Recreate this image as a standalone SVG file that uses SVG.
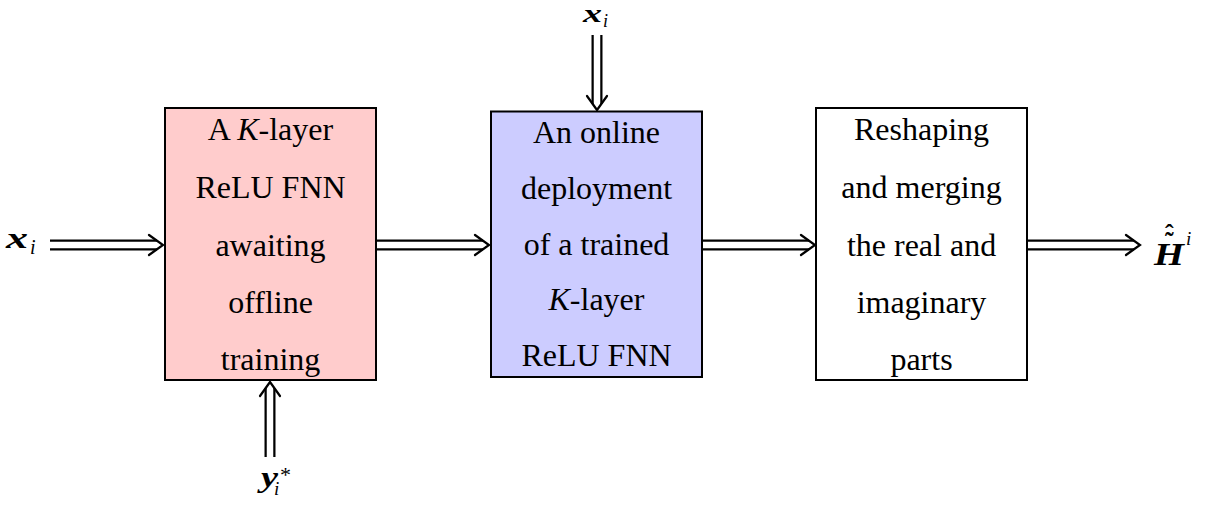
<svg xmlns="http://www.w3.org/2000/svg" width="1208" height="507" viewBox="0 0 1208 507">
  <style>
    .box { stroke: #000; stroke-width: 2; }
    .t { font-family: "Liberation Serif", "Times New Roman", serif; font-size: 32px; fill: #000; text-anchor: middle; }
    .s { font-family: "Liberation Serif", "Times New Roman", serif; fill: #000; }
    .bi { font-weight: bold; font-style: italic; }
    .it { font-style: italic; }
    .acc { font-style: normal; font-weight: bold; }
    .lo { stroke: #000; stroke-width: 11; fill: none; }
    .li { stroke: #fff; stroke-width: 6.5; fill: none; }
    .hd { stroke: #000; stroke-width: 2.2; fill: none; stroke-linejoin: miter; stroke-linecap: round; }
  </style>
  <rect width="1208" height="507" fill="#fff"/>

  <g id="connectors">
    <!-- x_i -> box1 -->
    <path class="lo" d="M50 245 H157"/>
    <path class="li" d="M50 245 H159"/>
    <path class="hd" d="M149 235 L163 245 L149 255"/>
    <!-- box1 -> box2 -->
    <path class="lo" d="M377 245 H483"/>
    <path class="li" d="M377 245 H485"/>
    <path class="hd" d="M475 235 L489 245 L475 255"/>
    <!-- box2 -> box3 -->
    <path class="lo" d="M702 245 H809"/>
    <path class="li" d="M702 245 H811"/>
    <path class="hd" d="M801 235 L815 245 L801 255"/>
    <!-- box3 -> output -->
    <path class="lo" d="M1027 245 H1134"/>
    <path class="li" d="M1027 245 H1136"/>
    <path class="hd" d="M1126 235 L1140 245 L1126 255"/>
    <!-- top x_i -> box2 -->
    <path class="lo" d="M597 35 V104"/>
    <path class="li" d="M597 35 V106"/>
    <path class="hd" d="M587 96 L597 110 L607 96"/>
    <!-- y_i^* -> box1 -->
    <path class="lo" d="M270 457 V388"/>
    <path class="li" d="M270 457 V386"/>
    <path class="hd" d="M260 396 L270 382 L280 396"/>
  </g>

  <g id="box1">
    <rect class="box" x="165" y="108" width="211" height="272" fill="#ffcccc"/>
    <text class="t" x="270.5" y="140"><tspan>A </tspan><tspan class="it">K</tspan><tspan>-layer</tspan></text>
    <text class="t" x="270.5" y="198">ReLU FNN</text>
    <text class="t" x="270.5" y="256">awaiting</text>
    <text class="t" x="270.5" y="313">offline</text>
    <text class="t" x="270.5" y="370">training</text>
  </g>

  <g id="box2">
    <rect class="box" x="491" y="111.5" width="211" height="265.5" fill="#ccccff"/>
    <text class="t" x="596.5" y="143">An online</text>
    <text class="t" x="596.5" y="199">deployment</text>
    <text class="t" x="596.5" y="255">of a trained</text>
    <text class="t" x="596.5" y="310"><tspan class="it">K</tspan><tspan>-layer</tspan></text>
    <text class="t" x="596.5" y="366">ReLU FNN</text>
  </g>

  <g id="box3">
    <rect class="box" x="816" y="108" width="211" height="272" fill="#ffffff"/>
    <text class="t" x="921.5" y="140">Reshaping</text>
    <text class="t" x="921.5" y="198">and merging</text>
    <text class="t" x="921.5" y="256">the real and</text>
    <text class="t" x="921.5" y="313">imaginary</text>
    <text class="t" x="921.5" y="370">parts</text>
  </g>

  <g id="label-x-left">
    <text class="s bi" x="6" y="248" font-size="30" textLength="22" lengthAdjust="spacingAndGlyphs">x</text>
    <text class="s it" x="30" y="254" font-size="20">i</text>
  </g>

  <g id="label-x-top">
    <text class="s bi" x="583" y="22" font-size="26" textLength="19" lengthAdjust="spacingAndGlyphs">x</text>
    <text class="s it" x="603" y="27" font-size="18">i</text>
  </g>

  <g id="label-y">
    <text class="s bi" x="261" y="487" font-size="30" textLength="17" lengthAdjust="spacingAndGlyphs">y</text>
    <text class="s it" x="274" y="495" font-size="19">i</text>
    <text class="s" x="280" y="482" font-size="22">*</text>
  </g>

  <g id="label-H">
    <text class="s bi" x="1154" y="265" font-size="32" textLength="30" lengthAdjust="spacingAndGlyphs">H</text>
    <text class="s acc" x="1165" y="250" font-size="26">˜<tspan x="1165" y="242">ˆ</tspan></text>
    <text class="s it" x="1186" y="245" font-size="19">i</text>
  </g>
</svg>
